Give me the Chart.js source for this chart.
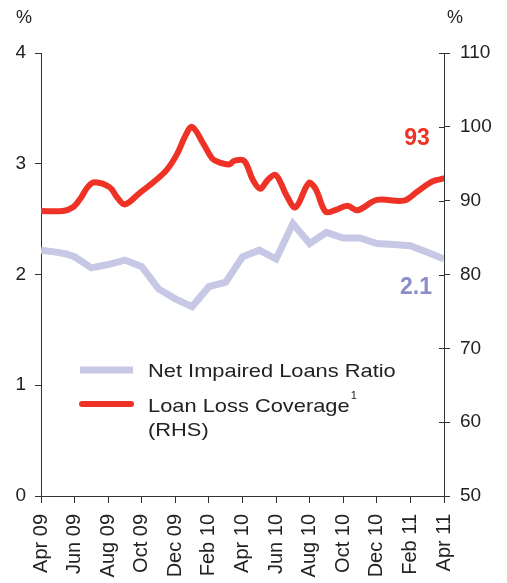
<!DOCTYPE html>
<html>
<head>
<meta charset="utf-8">
<title>Impaired loans and coverage</title>
<script src="https://cdn.jsdelivr.net/npm/chart.js"></script>
<style>
  html, body { margin: 0; padding: 0; background: #fff; }
  #wrap { position: relative; width: 507px; height: 583px; }
</style>
</head>
<body>
<div id="wrap"><canvas id="chart"></canvas></div>
<script>
// x positions are months counted from Apr 09
const tickLabels = ['Apr 09', 'Jun 09', 'Aug 09', 'Oct 09', 'Dec 09', 'Feb 10', 'Apr 10',
                    'Jun 10', 'Aug 10', 'Oct 10', 'Dec 10', 'Feb 11', 'Apr 11'];

// Net impaired loans ratio, % (left axis), monthly
const ratioMonths = [0, 1, 1.5, 2, 3, 4, 5, 6, 7, 8, 9, 10, 11, 12, 13, 14, 15, 16, 17, 18, 19, 20, 21, 22, 23, 24];
const ratioValues = [2.22, 2.20, 2.185, 2.16, 2.06, 2.09, 2.13, 2.07, 1.87, 1.78, 1.71, 1.89, 1.93,
                     2.16, 2.22, 2.14, 2.46, 2.28, 2.38, 2.33, 2.33, 2.28, 2.27, 2.26, 2.20, 2.14];

// Loan loss coverage, % (right axis)
const coverageMonths = [0, 1.3, 1.9, 2.35, 2.8, 3.2, 4.1, 4.55, 5.0, 5.9, 6.8, 7.5, 8.1, 8.6, 9.0,
                        9.7, 10.2, 10.6, 11.2, 11.5, 12.1, 12.6, 13.05, 13.5, 13.95, 14.3, 14.6,
                        15.15, 15.95, 16.35, 16.95, 17.5, 18.25, 18.85, 20.0, 21.6, 22.4, 23.3, 24];
const coverageValues = [88.6, 88.6, 89.1, 90.3, 91.9, 92.5, 91.8, 90.4, 89.5, 91.1, 92.7, 94.2, 96.3,
                        98.8, 100.0, 97.6, 95.7, 95.2, 94.9, 95.4, 95.4, 92.9, 91.6, 92.8, 93.5,
                        92.3, 90.8, 89.1, 92.4, 91.6, 88.5, 88.7, 89.3, 88.7, 90.1, 90.0, 91.2, 92.6, 93.0];

const ratioLabel = '2.1';
const coverageLabel = '93';

const RED = '#EE3326';
const LAVENDER = '#C6C8E5';
const LAVENDER_TEXT = '#8B8EC9';
const AXIS = '#333';
const FONT = "'Liberation Sans', Arial, sans-serif";

const toPoints = (xs, ys) => xs.map((x, i) => ({ x, y: ys[i] }));

// legend text is set a little wide
function wideText(ctx, text, x, y, k) {
  ctx.save();
  ctx.translate(x, y);
  ctx.scale(k, 1);
  ctx.fillText(text, 0, 0);
  const w = ctx.measureText(text).width * k;
  ctx.restore();
  return w;
}

// extra marks: % units, end-value labels, legend, inner ticks on the right axis
const decorations = {
  id: 'decorations',
  afterDraw(chart) {
    const { ctx, chartArea, scales } = chart;
    const yl = scales.y, yr = scales.y1;
    ctx.save();

    // inner half of the right-hand ticks, and the x axis run past both ends
    ctx.strokeStyle = AXIS;
    ctx.lineWidth = 1;
    yr.ticks.forEach(t => {
      const py = Math.round(yr.getPixelForValue(t.value)) + 0.5;
      ctx.beginPath();
      ctx.moveTo(chartArea.right - 5, py);
      ctx.lineTo(chartArea.right, py);
      ctx.stroke();
    });
    const by = Math.round(chartArea.bottom) + 0.5;
    ctx.beginPath();
    ctx.moveTo(chartArea.left - 6, by);
    ctx.lineTo(chartArea.right + 5, by);
    ctx.stroke();

    ctx.fillStyle = '#222';
    ctx.font = '18px ' + FONT;
    ctx.textAlign = 'center';
    ctx.textBaseline = 'middle';
    ctx.fillText('%', 24, 18);
    ctx.fillText('%', chartArea.right + 11, 18);

    // end values
    ctx.font = 'bold 23px ' + FONT;
    ctx.fillStyle = RED;
    const lastCov = coverageValues[coverageValues.length - 1];
    ctx.fillText(coverageLabel, chartArea.right - 27, yr.getPixelForValue(lastCov) - 40);
    ctx.fillStyle = LAVENDER_TEXT;
    const lastRatio = ratioValues[ratioValues.length - 1];
    ctx.fillText(ratioLabel, chartArea.right - 28, yl.getPixelForValue(lastRatio) + 29);

    // legend
    const ds = chart.data.datasets;
    const lx = 80, tx = 148;
    ctx.lineWidth = 7;
    ctx.lineCap = 'butt';
    ctx.strokeStyle = LAVENDER;
    ctx.beginPath(); ctx.moveTo(lx, 370); ctx.lineTo(lx + 53, 370); ctx.stroke();
    ctx.lineWidth = 6;
    ctx.lineCap = 'round';
    ctx.strokeStyle = RED;
    ctx.beginPath(); ctx.moveTo(lx + 2, 404); ctx.lineTo(lx + 51, 404); ctx.stroke();

    ctx.fillStyle = '#222';
    ctx.font = '19px ' + FONT;
    ctx.textAlign = 'left';
    ctx.textBaseline = 'alphabetic';
    const k = 1.15;
    wideText(ctx, ds[0].label, tx, 377, k);
    const w = wideText(ctx, ds[1].label, tx, 412, k);
    ctx.font = '11px ' + FONT;
    ctx.fillText('1', tx + w + 1, 399);
    ctx.font = '19px ' + FONT;
    wideText(ctx, '(RHS)', tx, 436, k);

    ctx.restore();
  }
};

new Chart(document.getElementById('chart'), {
  type: 'line',
  data: {
    datasets: [
      {
        label: 'Net Impaired Loans Ratio',
        data: toPoints(ratioMonths, ratioValues),
        yAxisID: 'y',
        borderColor: LAVENDER,
        borderWidth: 7,
        borderJoinStyle: 'miter',
        pointRadius: 0,
        tension: 0
      },
      {
        label: 'Loan Loss Coverage',
        data: toPoints(coverageMonths, coverageValues),
        yAxisID: 'y1',
        borderColor: RED,
        borderWidth: 6,
        borderCapStyle: 'round',
        borderJoinStyle: 'round',
        pointRadius: 0,
        tension: 0.35
      }
    ]
  },
  options: {
    responsive: true,
    maintainAspectRatio: false,
    animation: false,
    layout: { padding: { top: 53, left: 0, right: 0, bottom: 0 } },
    plugins: { legend: { display: false }, tooltip: { enabled: false } },
    scales: {
      x: {
        type: 'linear',
        min: 0,
        max: 24,
        afterFit: s => { s.height = 87; },
        grid: { drawOnChartArea: false, tickLength: 7, color: AXIS, tickColor: AXIS },
        border: { color: AXIS, width: 1 },
        ticks: {
          stepSize: 2,
          autoSkip: false,
          minRotation: 90,
          maxRotation: 90,
          padding: 11,
          color: '#222',
          font: { family: FONT, size: 20 },
          callback: v => tickLabels[v / 2]
        }
      },
      y: {
        position: 'left',
        min: 0,
        max: 4,
        afterFit: s => { s.width = 41; },
        grid: { drawOnChartArea: false, tickLength: 6, color: AXIS, tickColor: AXIS },
        border: { color: AXIS, width: 1 },
        ticks: { stepSize: 1, padding: 9, color: '#222', font: { family: FONT, size: 19 } }
      },
      y1: {
        position: 'right',
        min: 50,
        max: 110,
        afterFit: s => { s.width = 63; },
        grid: { drawOnChartArea: false, tickLength: 6, color: AXIS, tickColor: AXIS },
        border: { color: AXIS, width: 1 },
        ticks: { stepSize: 10, padding: 10, color: '#222', font: { family: FONT, size: 19 } }
      }
    }
  },
  plugins: [decorations]
});
</script>
</body>
</html>
